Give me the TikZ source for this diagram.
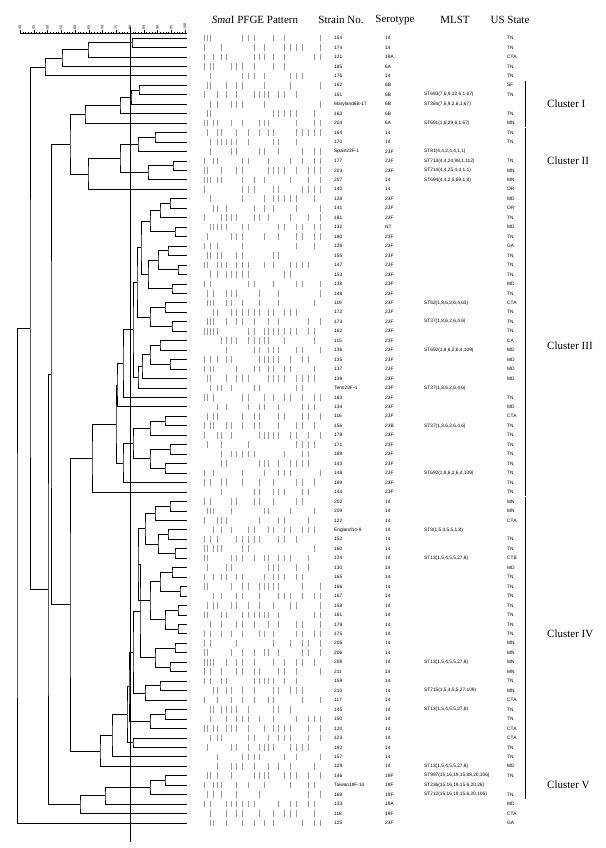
\documentclass[tikz,border=0pt]{standalone}
\usepackage{fontspec}
\setmainfont{Liberation Serif}
\newfontfamily\tabfont{Liberation Sans}
\usetikzlibrary{calc}

\tikzset{
  branch/.style={line width=0.8pt},
  cutline/.style={line width=0.6pt},
  band/.style={black!40, line width=0.3pt},
  colhead/.style={font=\fontsize{11}{12}\selectfont},
  cell/.style={font=\tabfont\fontsize{4.8}{5}\selectfont, anchor=west, inner sep=0pt},
  axislabel/.style={font=\tabfont\fontsize{3.6}{4}\selectfont, rotate=90, anchor=west, inner sep=0.4pt},
  clusterbar/.style={line width=1pt},
  clusterlabel/.style={font=\fontsize{11}{12}\selectfont, anchor=west, inner sep=0pt},
}

% join two branches at similarity position #2
\newcommand{\tjoin}[4]{%
  \path (#3) -- (#4) coordinate[pos=.5] (#1m);
  \coordinate (#1) at (#2,0 |- #1m);
  \draw[branch] (#3) -| (#1) |- (#4);
}

\begin{document}
\begin{tikzpicture}[x=1pt, y=-1pt]
    \useasboundingbox (0,0) rectangle (605,848);

    % Column heads
    \node[colhead] (hpfge) at (255,20) {\textit{Sma}I PFGE Pattern};
    \node[colhead] (hstrain) at (341,20) {Strain No.};
    \node[colhead] (hsero) at (395,20) {Serotype};
    \node[colhead] (hmlst) at (455,20) {MLST};
    \node[colhead] (hstate) at (510,20) {US State};

    % Similarity scale
    \draw[thin] (20,33) -- (187,33);
    \foreach \v in {40,...,100}
        \draw[thin] ({20+(\v-40)*2.75},33) -- ++(0,-1.2);
    \foreach \v in {40,45,...,100}{
        \draw[thin] ({20+(\v-40)*2.75},33) -- ++(0,-2.5);
        \node[axislabel] (ax\v) at ({20+(\v-40)*2.75},30) {\v};
    }

    % Cut-off line
    \coordinate (cuttop) at (130,27);
    \coordinate (cutbot) at (130,842);
    \draw[cutline] (cuttop) -- (cutbot);

    % Leaves
    \foreach \i in {1,...,84}
        \coordinate (r\i) at (187,{38+(\i-1)*9.458});

    % Top strains
    \tjoin{t1}{132}{r1}{r2}
    \tjoin{t2}{88}{t1}{r3}
    \tjoin{t3}{62}{t2}{r4}
    \tjoin{t4}{45}{t3}{r5}
    % Cluster I
    \tjoin{h1}{139}{r6}{r7}
    \tjoin{h2}{131}{h1}{r8}
    \tjoin{h3}{120}{h2}{r9}
    \tjoin{h4}{85}{h3}{r10}
    % Cluster II
    \tjoin{k1}{155}{r11}{r12}
    \tjoin{k2}{138}{k1}{r13}
    \tjoin{k3}{173}{r14}{r15}
    \tjoin{k4}{148}{k3}{r16}
    \tjoin{k5}{120}{k2}{k4}
    \tjoin{k6}{88}{k5}{r17}
    \tjoin{g}{70}{h4}{k6}
    % Cluster III
    \tjoin{a1}{170}{r18}{r19}
    \tjoin{a2}{160}{a1}{r20}
    \tjoin{a3}{175}{r21}{r22}
    \tjoin{a4}{150}{a2}{a3}
    \tjoin{a5}{168}{r23}{r24}
    \tjoin{a6}{178}{r25}{r26}
    \tjoin{a7}{158}{a5}{a6}
    \tjoin{a8}{172}{r27}{r28}
    \tjoin{a9}{148}{a7}{a8}
    \tjoin{a10}{141}{a4}{a9}
    \tjoin{b1}{165}{r29}{r30}
    \tjoin{b2}{172}{r31}{r32}
    \tjoin{b3}{150}{b1}{b2}
    \tjoin{s1}{137}{a10}{b3}
    \tjoin{c1}{160}{r33}{r34}
    \tjoin{c2}{170}{r35}{r36}
    \tjoin{c3}{150}{c1}{c2}
    \tjoin{c4}{142}{c3}{r37}
    \tjoin{c5}{138}{c4}{r38}
    \tjoin{p}{133}{s1}{c5}
    \tjoin{q}{123}{p}{r39}
    \tjoin{x1}{117}{q}{r40}
    \tjoin{d1}{165}{r41}{r42}
    \tjoin{d2}{150}{d1}{r43}
    \tjoin{e1}{170}{r44}{r45}
    \tjoin{e2}{165}{r46}{r47}
    \tjoin{e3}{150}{e1}{e2}
    \tjoin{d3}{133}{d2}{e3}
    \tjoin{z1}{123}{d3}{r48}
    \tjoin{y1}{116}{x1}{z1}
    \tjoin{n92}{92}{y1}{r49}
    % Cluster IV
    \tjoin{m1}{170}{r50}{r51}
    \tjoin{m2}{155}{m1}{r52}
    \tjoin{m3}{168}{r53}{r54}
    \tjoin{m4}{175}{r55}{r56}
    \tjoin{m5}{158}{m3}{m4}
    \tjoin{m6}{145}{m2}{m5}
    \tjoin{m7}{172}{r57}{r58}
    \tjoin{m8}{180}{r59}{r60}
    \tjoin{m9}{160}{m7}{m8}
    \tjoin{m10}{178}{r61}{r62}
    \tjoin{m11}{178}{r63}{r64}
    \tjoin{m12}{165}{m10}{m11}
    \tjoin{m13}{150}{m9}{m12}
    \tjoin{m14}{138}{m6}{m13}
    \tjoin{n1}{175}{r65}{r66}
    \tjoin{n2}{170}{r67}{r68}
    \tjoin{n3}{155}{n1}{n2}
    \tjoin{m15}{140}{m14}{n3}
    \tjoin{n4}{160}{r69}{r70}
    \tjoin{n5}{145}{n4}{r71}
    \tjoin{u133}{133}{m15}{n5}
    \tjoin{n6}{165}{r72}{r73}
    \tjoin{n7}{150}{n6}{r74}
    \tjoin{u129}{129}{u133}{n7}
    \tjoin{n8}{133}{r75}{r76}
    \tjoin{u127}{127}{u129}{n8}
    \tjoin{u112}{112}{u127}{r77}
    \tjoin{u100}{100}{u112}{r78}
    % Cluster V and the rest
    \tjoin{v1}{165}{r79}{r80}
    \tjoin{v2}{150}{v1}{r81}
    \tjoin{w105}{105}{v2}{r82}
    \tjoin{w80}{80}{w105}{r83}
    \tjoin{dd}{70}{n92}{u100}
    \tjoin{cc}{51}{g}{dd}
    \tjoin{bb}{48}{cc}{w80}
    \tjoin{aa}{30}{t4}{bb}
    \tjoin{root}{17}{aa}{r84}

    % SmaI band patterns
    \pgfmathsetseed{11}
    \foreach \i in {1,...,84}{
        \pgfmathsetmacro{\yy}{38+(\i-1)*9.458}
        \foreach \p in {204,207,210,213,217,221,226,231,236,242,248,254,259,264,268,273,278,284,290,296,302,308,314,320}{
            \pgfmathrandominteger{\k}{0}{99}
            \ifnum\k<42 \draw[band] (\p,\yy-3.3) -- (\p,\yy+3.3); \fi
        }
    }

    % Strain, serotype, state
    \foreach \i/\sname/\stype/\sstate in {
        1/154/14/TN, 2/174/14/TN, 3/121/19A/CTA, 4/185/6A/TN, 5/176/14/TN,
        6/162/6B/SF, 7/151/6B/TN, 8/Maryland6B-17/6B/, 9/163/6B/TN, 10/204/6A/MN,
        11/164/14/TN, 12/170/14/TN, 13/Spain23F-1/23F/, 14/177/23F/TN, 15/203/23F/MN,
        16/207/14/MN, 17/140/14/OR, 18/128/23F/MD, 19/141/23F/OR, 20/181/23F/TN,
        21/132/NT/MD, 22/180/23F/TN, 23/126/23F/GA, 24/155/23F/TN, 25/147/23F/TN,
        26/153/23F/TN, 27/138/23F/MD, 28/149/23F/TN, 29/119/23F/CTA, 30/172/23F/TN,
        31/173/23F/TN, 32/162/23F/TN, 33/115/23F/CA, 34/136/23F/MD, 35/135/23F/MD,
        36/137/23F/MD, 37/139/23F/MD, 38/Tenn23F-4/23F/, 39/183/23F/TN, 40/134/23F/MD,
        41/116/23F/CTA, 42/156/23B/TN, 43/178/23F/TN, 44/171/23F/TN, 45/189/23F/TN,
        46/143/23F/TN, 47/148/23F/TN, 48/169/23F/TN, 49/144/23F/TN, 50/202/14/MN,
        51/209/14/MN, 52/122/14/CTA, 53/England14-9/14/, 54/152/14/TN, 55/160/14/TN,
        56/124/14/CTB, 57/130/14/MD, 58/165/14/TN, 59/166/14/TN, 60/167/14/TN,
        61/158/14/TN, 62/161/14/TN, 63/179/14/TN, 64/175/14/TN, 65/205/14/MN,
        66/206/14/MN, 67/208/14/MN, 68/211/14/MN, 69/159/14/TN, 70/210/14/MN,
        71/117/14/CTA, 72/145/14/TN, 73/150/14/TN, 74/120/14/CTA, 75/123/14/CTA,
        76/182/14/TN, 77/157/14/TN, 78/129/14/MD, 79/146/19F/TN, 80/Taiwan19F-14/19F/,
        81/168/19F/TN, 82/133/19A/MD, 83/118/19F/CTA, 84/125/23F/GA}{
        \node[cell] (strain\i) at (334,{38+(\i-1)*9.458}) {\sname};
        \node[cell] (sero\i) at (385,{38+(\i-1)*9.458}) {\stype};
        \if\relax\detokenize\expandafter{\sstate}\relax\else
            \node[cell] (state\i) at (507,{38+(\i-1)*9.458}) {\sstate};
        \fi
    }

    % MLST
    \foreach \i/\mlst in {
        7/{ST693(7,6,9,12,6,1,67)}, 8/{ST384(7,6,9,2,6,1,67)}, 10/{ST691(1,6,29,6,1,67)},
        13/{ST81(4,4,2,4,4,1,1)}, 14/{ST713(4,4,24,98,1,112)}, 15/{ST714(4,4,25,4,4,1,1)},
        16/{ST694(4,4,2,5,69,1,8)}, 29/{ST62(1,8,6,2,6,4,63)}, 31/{ST37(1,8,6,2,6,4,6)},
        34/{ST692(1,8,6,2,6,4,109)}, 38/{ST37(1,8,6,2,6,4,6)}, 42/{ST37(1,8,6,2,6,4,6)},
        47/{ST692(1,8,6,2,6,4,109)}, 53/{ST9(1,5,4,5,5,1,8)}, 56/{ST13(1,5,4,5,5,27,8)},
        67/{ST13(1,5,4,5,5,27,8)}, 70/{ST715(1,5,4,5,5,27,109)}, 72/{ST13(1,5,4,5,5,27,8)},
        78/{ST13(1,5,4,5,5,27,8)}, 79/{ST997(15,16,19,15,88,20,106)},
        80/{ST236(15,16,19,15,6,20,26)}, 81/{ST712(15,16,19,15,6,20,106)}}
        \node[cell] (mlst\i) at (424,{38+(\i-1)*9.458}) {\mlst};

    % Clusters
    \foreach \name/\first/\last/\lab in {I/6/10/Cluster I, II/11/17/Cluster II,
        III/18/49/Cluster III, IV/50/78/Cluster IV, V/79/81/Cluster V}{
        \coordinate (top\name) at (525,{38+(\first-1)*9.458-4.3});
        \coordinate (bot\name) at (525,{38+(\last-1)*9.458+4.3});
        \draw[clusterbar] (top\name) -- (bot\name);
        \node[clusterlabel] (lab\name) at ($(top\name)!.5!(bot\name)+(22,0)$) {\lab};
    }
\end{tikzpicture}
\end{document}
